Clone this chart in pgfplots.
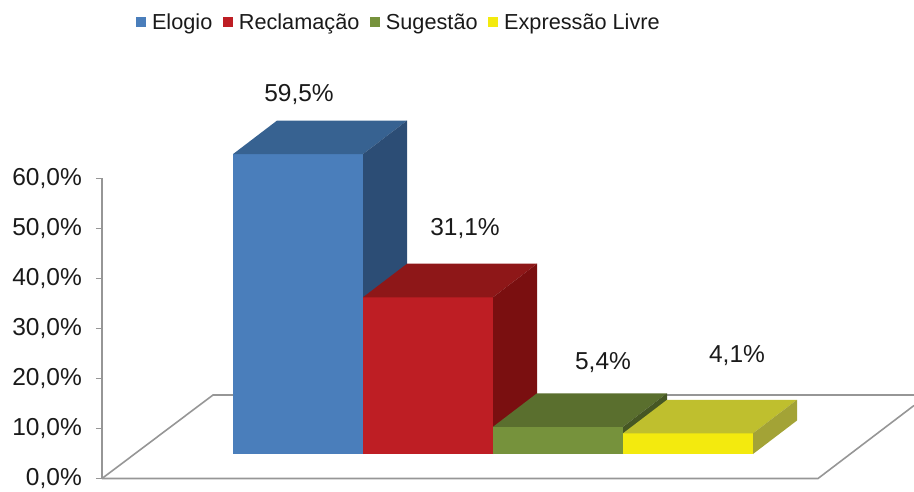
\documentclass[border=0pt]{standalone}
\usepackage{pgfplots}
\pgfplotsset{compat=1.18}
\usepackage{fontspec}
\setmainfont{Liberation Sans}
\definecolor{txt}{HTML}{1A1A1A}
\definecolor{axisgray}{HTML}{969696}
\definecolor{bF}{HTML}{4A7EBB}\definecolor{bT}{HTML}{376291}\definecolor{bS}{HTML}{2C4D75}
\definecolor{rF}{HTML}{BE1E24}\definecolor{rT}{HTML}{8E1718}\definecolor{rS}{HTML}{7A0F10}
\definecolor{gF}{HTML}{76923C}\definecolor{gT}{HTML}{5A6F2E}\definecolor{gS}{HTML}{465724}
\definecolor{yF}{HTML}{F3EA0E}\definecolor{yT}{HTML}{BFBF2E}\definecolor{yS}{HTML}{A3A336}
\begin{document}
\begin{tikzpicture}[x=1pt,y=1pt]
\path[use as bounding box] (0,0) rectangle (914,491);
% axis and floor
\begin{axis}[at={(102pt,12.5pt)},anchor=south west,scale only axis,width=812pt,height=300pt,
  xmin=102,xmax=914,ymin=0,ymax=60,clip=false,
  axis y line=left,axis x line=none,axis line style={-,draw=axisgray,line width=2.2pt},
  ytick={0,10,20,30,40,50,60},
  yticklabels={{0,0\%},{10,0\%},{20,0\%},{30,0\%},{40,0\%},{50,0\%},{60,0\%}},
  tick style={draw=axisgray,line width=1.6pt},major tick length=6pt,tick align=outside,
  yticklabel style={font=\fontsize{24.5}{28}\selectfont,text=txt,inner xsep=0pt,xshift=-14pt}]
\addplot[draw=axisgray,line width=2.2pt,mark=none] coordinates {(102,0)(102,60)};
\addplot[draw=axisgray,line width=1.6pt,mark=none] coordinates {(102,0)(213,16.7)(914,16.7)};
\addplot[draw=axisgray,line width=1.6pt,mark=none] coordinates {(102,0)(818,0)(914,14.6)};
\end{axis}
% bars: y in percent from the floor of the bars
\begin{axis}[at={(102pt,37pt)},anchor=south west,scale only axis,width=812pt,height=302.4pt,
  xmin=102,xmax=914,ymin=0,ymax=60,clip=false,hide axis,
  legend columns=4,legend cell align=left,
  legend image code/.code={\fill[#1] (0pt,2pt) rectangle (10pt,12pt);},
  legend style={at={(0.0419,1.4285)},anchor=west,draw=none,fill=none,inner sep=0pt,outer sep=0pt,
    nodes={inner sep=0pt,font=\fontsize{21.7}{24}\selectfont,text=txt,anchor=base west},
    /tikz/every odd column/.append style={column sep=6pt},
    /tikz/every even column/.append style={column sep=10.5pt}}]
% Elogio 59.5
\addplot[fill=bF,draw=none,mark=none] coordinates {(233,0)(363,0)(363,59.5)(233,59.5)} --cycle;
\addlegendentry{Elogio}
\addplot[fill=bT,draw=none,mark=none,forget plot] coordinates {(233,59.5)(363,59.5)(407,66.15)(277,66.15)} --cycle;
\addplot[fill=bS,draw=none,mark=none,forget plot] coordinates {(363,0)(407,6.65)(407,66.15)(363,59.5)} --cycle;
% Reclamacao 31.1
\addplot[fill=rF,draw=none,mark=none] coordinates {(363,0)(493,0)(493,31.1)(363,31.1)} --cycle;
\addlegendentry{Reclamação}
\addplot[fill=rT,draw=none,mark=none,forget plot] coordinates {(363,31.1)(493,31.1)(537,37.75)(407,37.75)} --cycle;
\addplot[fill=rS,draw=none,mark=none,forget plot] coordinates {(493,0)(537,6.65)(537,37.75)(493,31.1)} --cycle;
% Sugestao 5.4
\addplot[fill=gF,draw=none,mark=none] coordinates {(493,0)(623,0)(623,5.4)(493,5.4)} --cycle;
\addlegendentry{Sugestão}
\addplot[fill=gT,draw=none,mark=none,forget plot] coordinates {(493,5.4)(623,5.4)(667,12.05)(537,12.05)} --cycle;
\addplot[fill=gS,draw=none,mark=none,forget plot] coordinates {(623,0)(667,6.65)(667,12.05)(623,5.4)} --cycle;
% Expressao Livre 4.1
\addplot[fill=yF,draw=none,mark=none] coordinates {(623,0)(753,0)(753,4.1)(623,4.1)} --cycle;
\addlegendentry{Expressão Livre}
\addplot[fill=yT,draw=none,mark=none,forget plot] coordinates {(623,4.1)(753,4.1)(797,10.75)(667,10.75)} --cycle;
\addplot[fill=yS,draw=none,mark=none,forget plot] coordinates {(753,0)(797,6.65)(797,10.75)(753,4.1)} --cycle;
% data labels
\addplot[draw=none,mark=none,forget plot,point meta=explicit symbolic,
  nodes near coords,
  every node near coord/.style={anchor=center,inner sep=0pt,font=\fontsize{24.5}{28}\selectfont,text=txt}]
  coordinates {(299,71.3)[59,5\%] (465,44.7)[31,1\%] (603,18.15)[5,4\%] (737,19.54)[4,1\%]};
\end{axis}
\end{tikzpicture}
\end{document}
